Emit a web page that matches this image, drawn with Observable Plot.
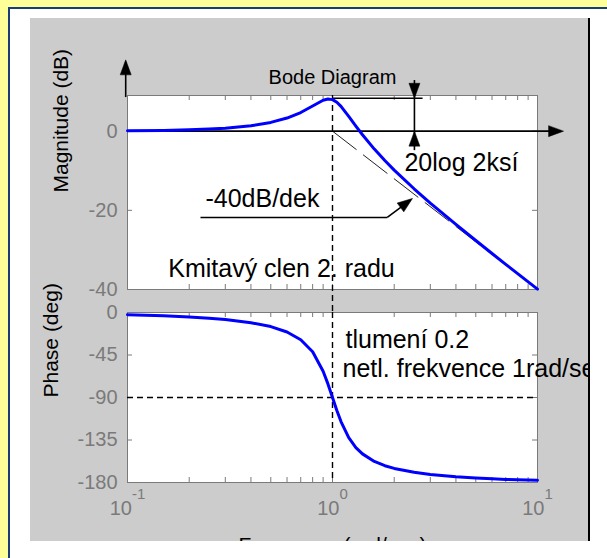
<!DOCTYPE html>
<html><head><meta charset="utf-8">
<script src="https://cdn.jsdelivr.net/npm/d3@7"></script>
<script src="https://cdn.jsdelivr.net/npm/@observablehq/plot@0.6"></script>
<style>
html,body{margin:0;padding:0;}
body{width:607px;height:558px;background:#ffff99;position:relative;overflow:hidden;font-family:"Liberation Sans",Arial,sans-serif;}
#page{position:absolute;left:8px;top:7px;width:599px;height:551px;background:#fff;border-left:2px solid #1a3c78;border-top:2px solid #1a3c78;box-sizing:border-box;}
#panel{position:absolute;left:30px;top:18px;width:558px;height:523px;background:#cccccc;overflow:hidden;}
#edge{position:absolute;left:588px;top:18px;width:2px;height:523px;background:#000;}
#mag,#phase{position:absolute;left:0;}
#mag{top:0px;}
#phase{top:271px;}
</style></head><body>
<div id="page"></div>
<div id="panel"><div id="mag"></div><div id="phase"></div></div>
<div id="edge"></div>
<script>
// ---- data ----
const freq     = [0.1, 0.15, 0.2, 0.25, 0.3, 0.4, 0.5, 0.6, 0.7, 0.8, 0.9, 0.95, 1.0, 1.05, 1.1, 1.2, 1.3, 1.4, 1.6, 1.8, 2, 2.5, 3, 4, 5, 6, 7, 8, 10];
const magDb    = [0.08, 0.18, 0.32, 0.51, 0.74, 1.36, 2.2, 3.3, 4.7, 6.35, 7.81, 8.1, 7.96, 7.28, 6.24, 3.73, 1.27, -0.92, -4.54, -7.43, -9.84, -14.56, -18.16, -23.57, -27.63, -30.9, -33.64, -36.0, -39.92];
const phaseDeg = [-2.3, -3.5, -4.8, -6.1, -7.5, -10.8, -14.9, -20.6, -28.8, -41.6, -62.2, -75.6, -90, -103.7, -115.5, -132.5, -143.0, -149.7, -157.7, -162.2, -165.1, -169.2, -171.5, -173.9, -175.2, -176.1, -176.7, -177.1, -177.7];

const asymptoteFreq = [1, 10];
const asymptoteDb   = [0, -40];

const magTicks   = [0, -20, -40];
const phaseTicks = [0, -45, -90, -135, -180];
const xMajor     = [0.1, 1, 10];
const xExponents = ["-1", "0", "1"];
const xMinor     = [0.2, 0.3, 0.4, 0.5, 0.6, 0.7, 0.8, 0.9, 2, 3, 4, 5, 6, 7, 8, 9];

const titleText = "Bode Diagram";
const magLabel = "Magnitude (dB)";
const phaseLabel = "Phase (deg)";
const freqLabel = "Frequency (rad/sec)";

// annotations (data coordinates)
const magSegments = [
  {x1: 0.098, y1: 8.6,   x2: 0.098, y2: 17.5},
  {x1: 0.1,   y1: 0,     x2: 13.0,  y2: 0},
  {x1: 1,     y1: 8.3,   x2: 2.75,  y2: 8.3},
  {x1: 2.51,  y1: 12.9,  x2: 2.51,  y2: -4.8},
  {x1: 0.227, y1: -21.8, x2: 1.85,  y2: -21.8},
  {x1: 1.85,  y1: -21.8, x2: 2.40,  y2: -17.4}
];
const magHeads = [
  {x: 0.098, y: 18.0,  angle: 0},
  {x: 13.4,  y: 0,     angle: 90},
  {x: 2.51,  y: 8.3,   angle: 180},
  {x: 2.51,  y: 0,     angle: 0},
  {x: 2.455, y: -17.0, angle: 53}
];
const magNotes = [
  {x: 0.158, y: -34.7, text: "Kmitavý clen 2. radu"},
  {x: 0.240, y: -17.2, text: "-40dB/dek"},
  {x: 2.244, y: -8.1,  text: "20log 2ksí"}
];
const magGuide = [{x: 1, y1: 9, y2: -45.8}];
const phaseNotes = [
  {x: 1.157, y: -29.6, text: "tlumení 0.2"},
  {x: 1.119, y: -59.3, text: "netl. frekvence 1rad/sec"}
];

// ---- build ----
const font = '"Liberation Sans", Arial, sans-serif';
const grey = "#7a7a7a";
const magRows = freq.map((f, i) => ({f, v: magDb[i]}));
const phaseRows = freq.map((f, i) => ({f, v: phaseDeg[i]}));
const asymRows = asymptoteFreq.map((f, i) => ({f, v: asymptoteDb[i]}));
const xTickRows = xMajor.map((v, i) => ({v, e: xExponents[i]}));
const headSymbol = {draw(ctx) { ctx.moveTo(0, 0); ctx.lineTo(-5.5, 15); ctx.lineTo(5.5, 15); ctx.closePath(); }};
const common = {
  width: 558, marginLeft: 97, marginRight: 51,
  x: {type: "log", domain: [0.1, 10], axis: null},
  style: {background: "none", fontFamily: font, overflow: "visible"}
};
const magFrameH = 194, phaseFrameH = 170, frameW = 410;

const mag = Plot.plot({
  ...common,
  height: 290, marginTop: 77, marginBottom: 19,
  y: {domain: [-40, 9], axis: null},
  marks: [
    Plot.frame({fill: "white", stroke: null}),
    Plot.tickX(xMajor.concat(xMinor), {x: d => d, stroke: grey, insetBottom: magFrameH - 5}),
    Plot.tickX(xMajor.concat(xMinor), {x: d => d, stroke: grey, insetTop: magFrameH - 5}),
    Plot.tickY(magTicks, {y: d => d, stroke: grey, insetRight: frameW - 5}),
    Plot.tickY(magTicks, {y: d => d, stroke: grey, insetLeft: frameW - 5}),
    Plot.frame({stroke: grey}),
    Plot.ruleX(magGuide, {x: "x", y1: "y1", y2: "y2", stroke: "black", strokeWidth: 1.4, strokeDasharray: "6,4"}),
    Plot.line(asymRows, {x: "f", y: "v", stroke: "#222", strokeWidth: 1, strokeDasharray: "30,9"}),
    Plot.link(magSegments, {x1: "x1", y1: "y1", x2: "x2", y2: "y2", stroke: "black", strokeWidth: 1.6}),
    Plot.line(magRows, {x: "f", y: "v", stroke: "#0000ff", strokeWidth: 3}),
    Plot.dot(magHeads, {x: "x", y: "y", rotate: "angle", symbol: headSymbol, r: 5, fill: "black", stroke: "black", strokeWidth: 0.5}),
    Plot.text(magNotes, {x: "x", y: "y", text: "text", textAnchor: "start", fontSize: 25, fill: "black"}),
    Plot.text([titleText], {text: d => d, frameAnchor: "top", dy: -26, fontSize: 20, fill: "black"}),
    Plot.text(magTicks, {y: d => d, text: d => String(d), frameAnchor: "left", textAnchor: "end", dx: -10, fontSize: 20, fill: grey}),
    Plot.text([magLabel], {text: d => d, frameAnchor: "left", rotate: -90, dx: -66, fontSize: 21, fill: "black"})
  ]
});

const phase = Plot.plot({
  ...common,
  height: 252, marginTop: 23, marginBottom: 59,
  y: {domain: [-180, 0], axis: null},
  marks: [
    Plot.frame({fill: "white", stroke: null}),
    Plot.tickX(xMajor.concat(xMinor), {x: d => d, stroke: grey, insetBottom: phaseFrameH - 5}),
    Plot.tickX(xMajor.concat(xMinor), {x: d => d, stroke: grey, insetTop: phaseFrameH - 5}),
    Plot.tickY(phaseTicks, {y: d => d, stroke: grey, insetRight: frameW - 5}),
    Plot.tickY(phaseTicks, {y: d => d, stroke: grey, insetLeft: frameW - 5}),
    Plot.frame({stroke: grey}),
    Plot.ruleY([-90], {y: d => d, stroke: "black", strokeWidth: 1.4, strokeDasharray: "6,4"}),
    Plot.ruleX([1], {x: d => d, stroke: "black", strokeWidth: 1.4, strokeDasharray: "6,4"}),
    Plot.line(phaseRows, {x: "f", y: "v", stroke: "#0000ff", strokeWidth: 3}),
    Plot.text(phaseNotes, {x: "x", y: "y", text: "text", textAnchor: "start", fontSize: 25, fill: "black"}),
    Plot.text(phaseTicks, {y: d => d, text: d => String(d), frameAnchor: "left", textAnchor: "end", dx: -10, fontSize: 20, fill: grey}),
    Plot.text(xTickRows, {x: "v", text: d => "10^" + d.e, frameAnchor: "bottom", dy: 32, fontSize: 20, fill: grey}),
    Plot.text([phaseLabel], {text: d => d, frameAnchor: "left", rotate: -90, dx: -76, fontSize: 21, fill: "black"}),
    Plot.text([freqLabel], {text: d => d, frameAnchor: "bottom", dy: 69, fontSize: 21, fill: "black"})
  ]
});

// superscript exponents on the log tick labels
const ns = "http://www.w3.org/2000/svg";
phase.querySelectorAll("text").forEach(t => {
  if (t.children.length || !t.textContent.includes("^")) return;
  const [base, exp] = t.textContent.split("^");
  t.textContent = "";
  const b = document.createElementNS(ns, "tspan"); b.textContent = base; t.appendChild(b);
  const e = document.createElementNS(ns, "tspan"); e.textContent = exp;
  e.setAttribute("dy", "-16"); e.setAttribute("font-size", "15"); t.appendChild(e);
});

document.getElementById("mag").appendChild(mag);
document.getElementById("phase").appendChild(phase);
</script>
</body></html>
